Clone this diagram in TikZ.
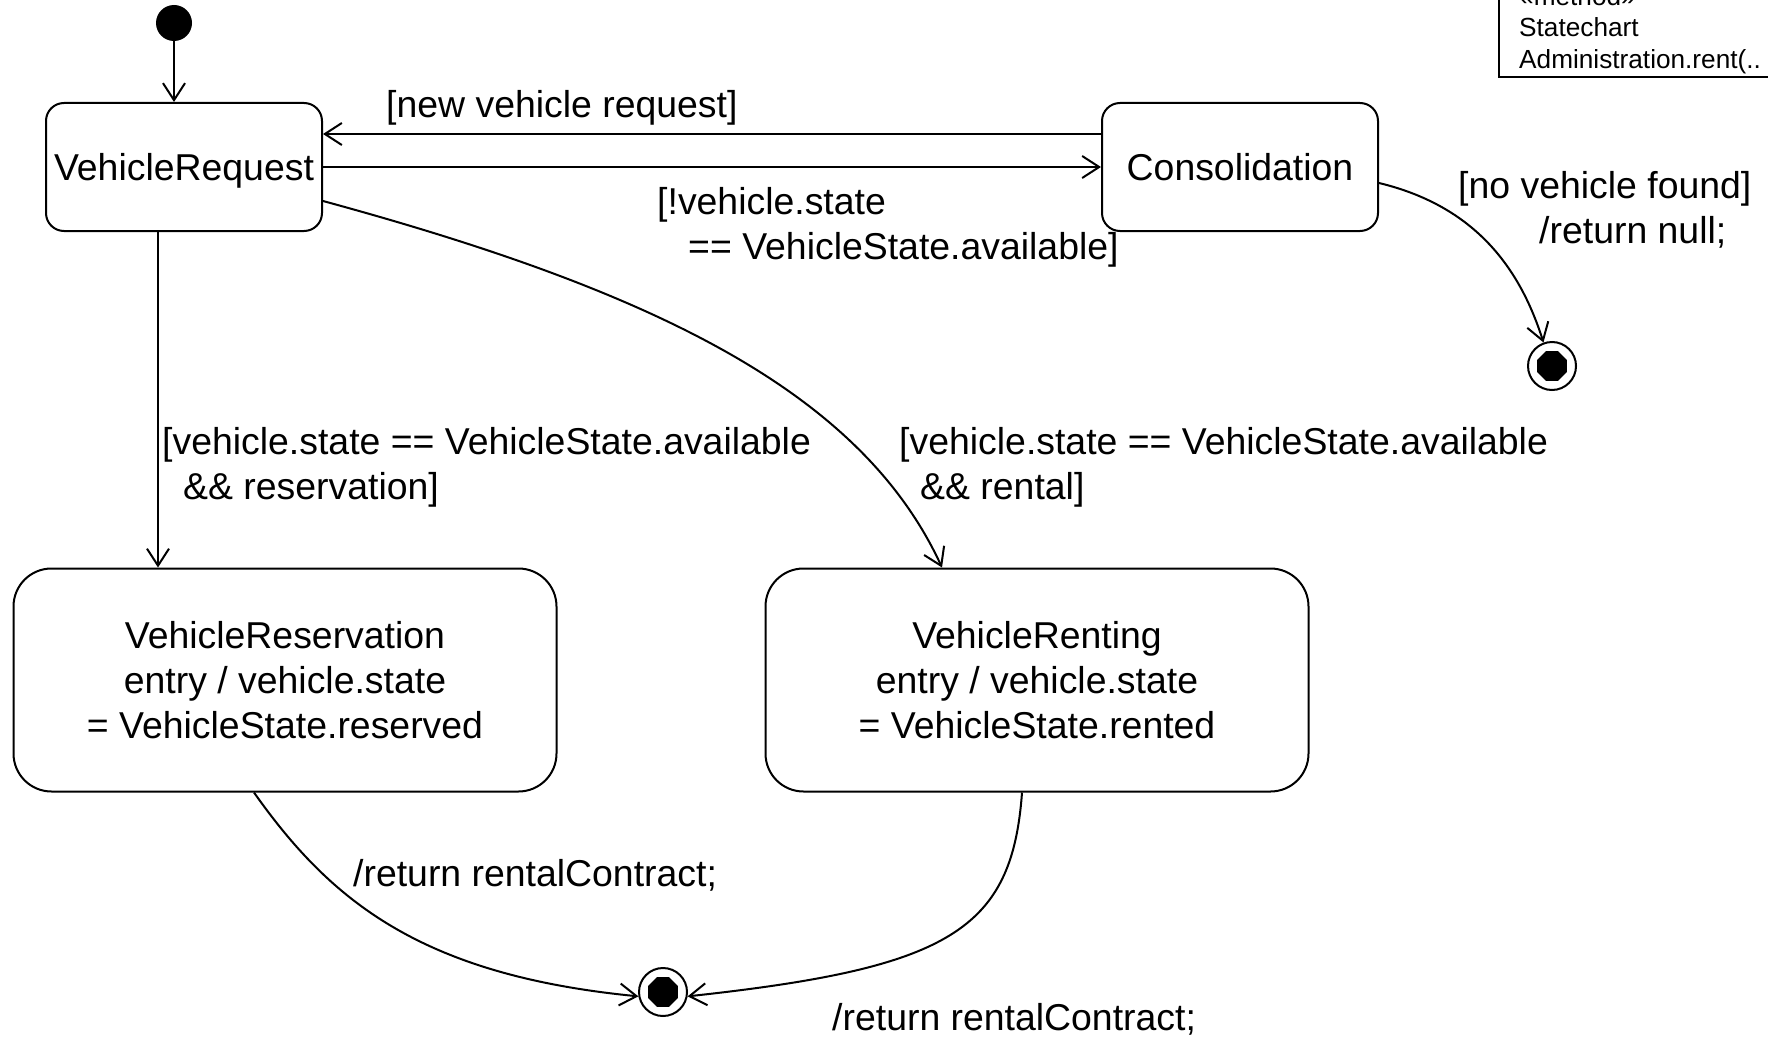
\documentclass[tikz,border=0pt]{standalone}
\usepackage{fontspec}
\setmainfont{Liberation Sans}
\usetikzlibrary{arrows.meta,shapes.geometric}

\newcommand\lblfont{\fontsize{37.4}{45}\selectfont}
\newcommand\notefont{\fontsize{26.2}{31.5}\selectfont}

\begin{document}
\begin{tikzpicture}[x=1pt,y=-1pt,
  smallstate/.style={draw, line width=2pt, inner sep=0pt, font=\lblfont,
    rounded corners=18pt, minimum width=276pt, minimum height=128pt,
    text height=27pt, text depth=0pt},
  bigstate/.style={draw, line width=2pt, align=center, inner sep=0pt, font=\lblfont,
    rounded corners=38pt, minimum width=543pt, minimum height=223pt},
  lbl/.style={inner sep=0pt, align=left, anchor=west, font=\lblfont},
  tr/.style={line width=2pt, -{Straight Barb[length=17pt,width=22pt]}},
  initdot/.style={circle, fill=black, minimum size=36pt, inner sep=0pt},
  finring/.style={circle, draw, line width=2pt, fill=white, minimum size=48pt, inner sep=0pt},
  finbull/.style={regular polygon, regular polygon sides=8, fill=black, minimum size=32pt, inner sep=0pt}
]
\path[use as bounding box] (0,0) rectangle (1768,1038);
\clip (0,0) rectangle (1768,1038);
\fill[white] (0,0) rectangle (1768,1038);

% method note in the corner
\node[draw, line width=1.5pt, anchor=south west, minimum width=320pt, minimum height=110pt, inner sep=0pt] (note) at (1498,78) {};
\node[inner sep=0pt, align=left, anchor=south west, font=\notefont] (notetext) at (1519,74)
  {«method»\\Statechart\\Administration.rent(..};

% states
\node[initdot] (init) at (174,23) {};
\node[smallstate] (req) at (184,167) {VehicleRequest};
\node[smallstate] (cons) at (1240,167) {Consolidation};
\node[bigstate] (resv) at (285,680) {VehicleReservation\\entry / vehicle.state\\= VehicleState.reserved};
\node[bigstate] (rent) at (1037,680) {VehicleRenting\\entry / vehicle.state\\= VehicleState.rented};

\node[finring] (finA) at (1552,366) {};
\node[finbull] at (finA) {};
\node[finring] (finB) at (663,992) {};
\node[finbull] at (finB) {};

% transitions
\draw[tr] (init.south) -- (init.south |- req.north);
\draw[tr] ([yshift=33pt]cons.west) -- ([yshift=33pt]req.east);
\draw[tr] (req.east) -- (cons.west);
\draw[tr] (req.south -| 158,0) -- (resv.north -| 158,0);
\draw[tr] ([yshift=-34pt]req.east) .. controls (650,290) and (860,390) .. (rent.north -| 942,0);
\draw[tr] ([yshift=-16pt]cons.east) .. controls (1470,205) and (1518,262) .. (finA.110);
\draw[tr] (resv.south -| 254,0) .. controls (330,900) and (420,975) .. (finB.190);
\draw[tr] (rent.south -| 1022,0) .. controls (1012,930) and (950,968) .. (finB.-10);

% guards and actions
\node[lbl] (l1) at (386,107.5) {[new vehicle request]};
\node[lbl] (l2) at (657,227) {[!vehicle.state\\\hspace*{31pt}== VehicleState.available]};
\node[lbl] (l3) at (1458,210) {[no vehicle found]\\\hspace*{81pt}/return null;};
\node[lbl] (l4) at (162,467) {[vehicle.state == VehicleState.available\\\hspace*{21pt}\&\& reservation]};
\node[lbl] (l5) at (899,467) {[vehicle.state == VehicleState.available\\\hspace*{21pt}\&\& rental]};
\node[lbl] (l6) at (353,875.5) {/return rentalContract;};
\node[lbl] (l7) at (832,1019.5) {/return rentalContract;};
\end{tikzpicture}
\end{document}
